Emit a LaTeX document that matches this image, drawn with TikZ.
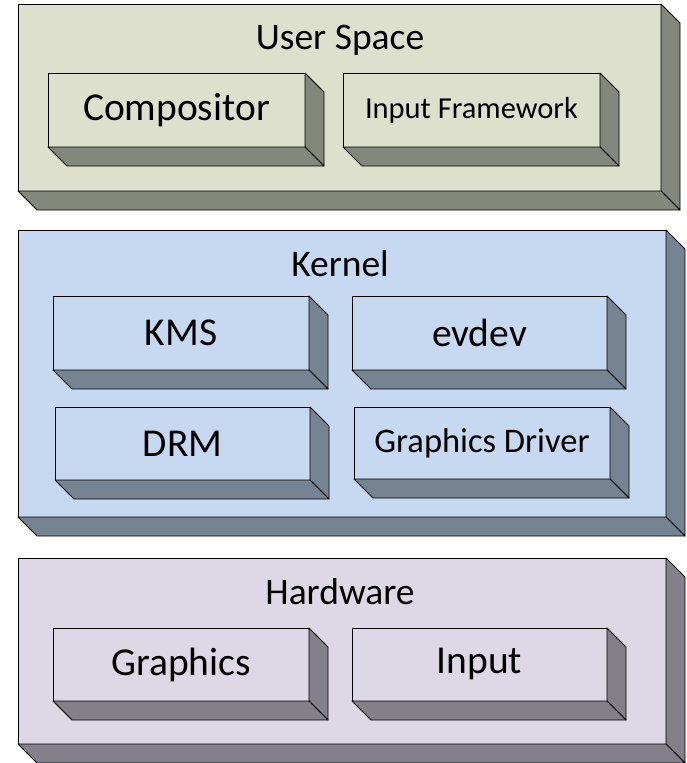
\documentclass[tikz,border=0pt]{standalone}
\usepackage{fontspec}
\setmainfont{Carlito}
\definecolor{usface}{RGB}{221,224,205}
\definecolor{usside}{RGB}{132,135,123}
\definecolor{kface}{RGB}{198,217,240}
\definecolor{kside}{RGB}{118,131,146}
\definecolor{hface}{RGB}{222,216,230}
\definecolor{hside}{RGB}{131,128,138}
\tikzset{
  cubeface/.style={draw=black, line width=0.9pt, inner sep=0pt, outer sep=0pt, text=black},
  cubeside/.style={draw=black, line width=0.9pt, line join=round},
  bigtext/.style={font=\fontsize{39.5}{42}\selectfont},
  smalltext/.style={font=\fontsize{30.5}{33}\selectfont},
  midtext/.style={font=\fontsize{34.5}{37}\selectfont},
  titletext/.style={font=\fontsize{37.5}{40}\selectfont, inner sep=0pt}
}
\newcommand\mkcube[9]{%
  \node[cubeface, fill=#6, minimum width={#4-#2}, minimum height={#5-#3}, #8] (#1) at ({(#2+#4)/2},{(#3+#5)/2}) {#9};
  \filldraw[cubeside, fill=#7] (#1.north east) -- ++(19,19) -- ++(0,{#5-#3}) -- (#1.south east) -- cycle;
  \filldraw[cubeside, fill=#7] (#1.south west) -- (#1.south east) -- ++(19,19) -- ++({#2-#4},0) -- cycle;
}
\begin{document}
\begin{tikzpicture}[x=1pt, y=-1pt]
\useasboundingbox (0,0) rectangle (687,763);
% User Space
\mkcube{user}{18}{4}{661}{191}{usface}{usside}{}{}
\node[titletext] (usertitle) at (340,40) {User Space};
\mkcube{comp}{48}{73}{305}{147}{usface}{usside}{bigtext}{Compositor}
\mkcube{inputfw}{343}{73}{600}{147}{usface}{usside}{smalltext}{Input Framework}
% Kernel
\mkcube{kernel}{18}{230}{666}{517}{kface}{kside}{}{}
\node[titletext] (kerneltitle) at (340,264) {Kernel};
\mkcube{kms}{53}{296}{309}{370}{kface}{kside}{bigtext}{KMS}
\mkcube{evdev}{352}{296}{607}{370}{kface}{kside}{bigtext}{evdev}
\mkcube{drm}{55}{407}{310}{480}{kface}{kside}{bigtext}{DRM}
\mkcube{gdrv}{354}{407}{610}{479}{kface}{kside}{midtext}{Graphics Driver}
% Hardware
\mkcube{hw}{18}{558}{666}{744}{hface}{hside}{}{}
\node[titletext] (hwtitle) at (340,592) {Hardware};
\mkcube{graphics}{53}{628}{309}{701}{hface}{hside}{bigtext}{Graphics}
\mkcube{input}{352}{628}{607}{701}{hface}{hside}{bigtext}{Input}
\end{tikzpicture}
\end{document}
